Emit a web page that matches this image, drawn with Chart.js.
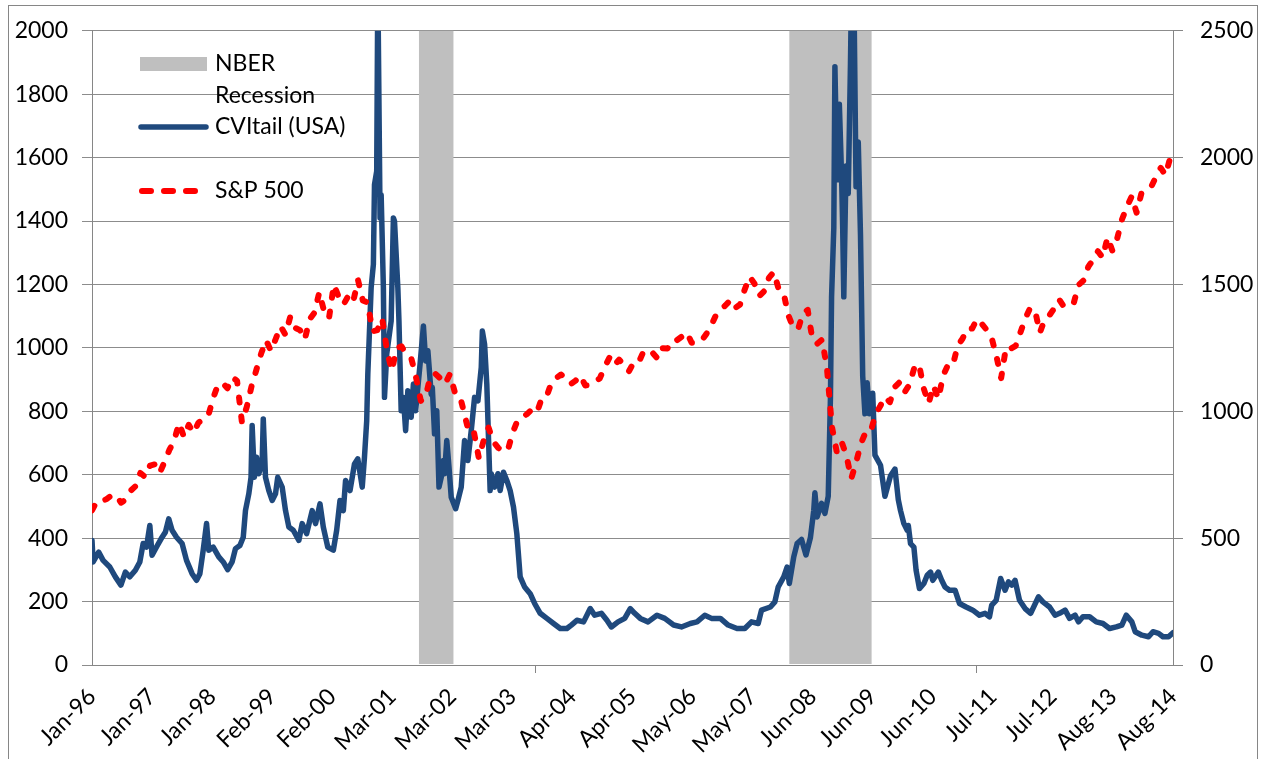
<!DOCTYPE html>
<html lang="en">
<head>
    <meta charset="UTF-8">
    <title>CVItail (USA) vs S&amp;P 500</title>
    <script src="https://cdn.jsdelivr.net/npm/chart.js"></script>
    <style>
        body {
            margin: 0;
            background: #ffffff;
        }
        #wrap {
            width: 1264px;
            height: 759px;
        }
    </style>
</head>
<body>
    <div id="wrap"><canvas id="chart" width="1264" height="759"></canvas></div>

    <script>
        // x axis: weekly observations, one label every 54 weeks
        const xLabels = ['Jan-96', 'Jan-97', 'Jan-98', 'Feb-99', 'Feb-00', 'Mar-01', 'Mar-02', 'Mar-03', 'Apr-04',
            'Apr-05', 'May-06', 'May-07', 'Jun-08', 'Jun-09', 'Jun-10', 'Jul-11', 'Jul-12', 'Aug-13', 'Aug-14'];
        const weeksPerLabel = 54;
        const weeksPerYear = 52.18;
        const xMajorTicks = [398, 795];

        // shaded NBER recession periods (week index)
        const recessionStart = [294, 627];
        const recessionEnd = [325, 701];

        // CVItail (USA), left axis (week index / value)
        const cvWeeks = [0, 1, 6, 10, 16, 21, 26, 30, 34, 39, 43, 46, 49, 52, 54, 58, 63, 66, 69, 72, 76, 81, 85, 90, 94, 97,
            100, 103, 105, 109, 114, 118, 122, 126, 129, 133, 136, 138, 141, 143, 144, 146, 148, 150, 153, 154, 156, 159,
            162, 165, 167, 171, 174, 177, 181, 186, 189, 193, 198, 201, 205, 208, 212, 217, 220, 223, 226, 228, 232, 236,
            239, 243, 245, 247, 248, 251, 253, 254, 256, 257, 259, 260, 262, 263, 265, 269, 271, 272, 275, 276, 278, 280,
            282, 284, 287, 289, 291, 295, 298, 300, 302, 305, 306, 308, 310, 312, 314, 316, 317, 319, 321, 323, 327, 329,
            332, 335, 338, 341, 344, 347, 350, 351, 353, 355, 358, 359, 362, 365, 367, 370, 373, 376, 379, 382, 385, 389,
            394, 398, 403, 409, 415, 421, 427, 431, 436, 442, 448, 452, 458, 463, 467, 473, 479, 484, 488, 493, 500, 508,
            515, 523, 530, 538, 544, 551, 557, 565, 572, 580, 587, 593, 599, 602, 610, 614, 617, 622, 625, 627, 631, 634,
            638, 642, 646, 649, 650, 652, 656, 659, 662, 664, 665, 667, 668, 670, 672, 674, 675, 676, 678, 680, 682, 683,
            685, 687, 689, 691, 693, 695, 697, 699, 702, 704, 709, 713, 718, 722, 725, 727, 730, 733, 734, 736, 739, 741,
            744, 748, 751, 754, 756, 761, 764, 767, 771, 776, 780, 786, 792, 798, 803, 807, 809, 813, 817, 821, 824, 827,
            830, 834, 839, 844, 851, 855, 861, 866, 870, 875, 879, 884, 887, 891, 897, 903, 909, 915, 921, 926, 930, 935,
            938, 944, 950, 954, 959, 963, 968, 972];
        const cvValues = [393, 325, 356, 330, 309, 278, 252, 293, 278, 299, 325, 383, 372, 440, 346, 372, 403, 419, 461, 425,
            403, 383, 330, 288, 267, 288, 362, 446, 362, 372, 341, 325, 301, 325, 367, 377, 403, 487, 540, 592, 755, 592,
            655, 603, 639, 776, 592, 550, 519, 540, 592, 561, 487, 435, 425, 393, 446, 414, 487, 446, 508, 435, 372, 362,
            425, 519, 487, 582, 550, 634, 650, 561, 655, 770, 917, 1190, 1263, 1515, 1557, 2150, 1410, 1483, 1190, 844,
            980, 1085, 1410, 1400, 1190, 1085, 802, 844, 739, 865, 781, 886, 802, 949, 1069, 959, 991, 854, 875, 729, 802,
            561, 592, 645, 603, 708, 624, 529, 493, 519, 561, 708, 645, 739, 844, 833, 938, 1053, 1012, 886, 550, 603,
            561, 603, 550, 608, 582, 550, 498, 414, 278, 246, 225, 194, 163, 147, 131, 115, 115, 126, 141, 136, 178, 157,
            163, 141, 120, 136, 147, 178, 163, 147, 136, 157, 147, 126, 120, 131, 136, 157, 147, 147, 126, 115, 115, 136,
            131, 173, 183, 199, 246, 278, 309, 257, 341, 383, 396, 347, 402, 488, 543, 467, 510, 478, 532, 846, 1161, 1378,
            1887, 1530, 1768, 1541, 1378, 1161, 1574, 1487, 1898, 2150, 2150, 1508, 1649, 1356, 911, 792, 890, 792, 857,
            662, 630, 532, 597, 618, 521, 487, 446, 425, 440, 383, 372, 299, 241, 257, 283, 293, 267, 293, 267, 246, 236,
            236, 194, 183, 173, 157, 163, 152, 189, 204, 273, 236, 262, 252, 267, 204, 178, 163, 215, 199, 183, 157, 163,
            173, 147, 157, 136, 152, 152, 136, 131, 115, 120, 126, 157, 136, 105, 94, 89, 105, 100, 89, 89, 102];

        // S&P 500, right axis, one value per month from Jan-96
        const spMonthly = [
            610, 645, 645, 654, 668, 670, 640, 652, 687, 705, 757, 741,
            786, 791, 757, 801, 848, 885, 954, 899, 947, 915, 955, 970,
            980, 1049, 1102, 1112, 1091, 1134, 1120, 957, 1017, 1099, 1164, 1229,
            1280, 1238, 1286, 1335, 1302, 1373, 1329, 1320, 1283, 1363, 1389, 1469,
            1394, 1366, 1499, 1452, 1421, 1455, 1431, 1518, 1437, 1429, 1315, 1320,
            1366, 1240, 1160, 1249, 1256, 1224, 1211, 1134, 1041, 1060, 1139, 1148,
            1130, 1107, 1147, 1077, 1067, 990, 912, 916, 815, 886, 936, 880,
            856, 841, 848, 917, 964, 975, 990, 1008, 996, 1051, 1058, 1112,
            1131, 1145, 1126, 1107, 1121, 1141, 1102, 1104, 1115, 1130, 1174, 1212,
            1181, 1204, 1181, 1157, 1192, 1191, 1234, 1220, 1229, 1207, 1249, 1248,
            1280, 1281, 1295, 1311, 1270, 1270, 1277, 1304, 1336, 1378, 1401, 1418,
            1438, 1407, 1421, 1482, 1531, 1503, 1455, 1474, 1527, 1549, 1481, 1468,
            1378, 1331, 1323, 1386, 1400, 1280, 1267, 1283, 1165, 940, 840, 880,
            826, 735, 798, 873, 919, 919, 987, 1021, 1057, 1036, 1096, 1115,
            1074, 1104, 1169, 1187, 1089, 1031, 1102, 1049, 1141, 1183, 1181, 1258,
            1286, 1327, 1326, 1364, 1345, 1321, 1292, 1219, 1131, 1253, 1247, 1258,
            1312, 1366, 1408, 1398, 1310, 1362, 1379, 1407, 1441, 1412, 1416, 1426,
            1498, 1515, 1569, 1598, 1631, 1606, 1686, 1633, 1682, 1757, 1806, 1848,
            1783, 1859, 1872, 1884, 1924, 1960, 1931, 2003
        ];

        const shadeColor = '#bfbfbf';
        const axisColor = '#868686';
        const legendDash = [9, 13];

        const cvData = cvWeeks.map((w, i) => ({ x: w, y: cvValues[i] }));
        const spData = spMonthly.map((v, i) => ({ x: i * weeksPerYear / 12, y: v }));

        // outer chart border
        const frame = {
            id: 'frame',
            beforeDraw(chart) {
                const ctx = chart.ctx;
                ctx.save();
                ctx.strokeStyle = axisColor;
                ctx.lineWidth = 1;
                ctx.strokeRect(8.5, 5.5, 1249, 800);
                ctx.restore();
            }
        };

        // recession bars, drawn over the gridlines but under the series
        const recessions = {
            id: 'recessions',
            beforeDatasetsDraw(chart) {
                const { ctx, chartArea, scales } = chart;
                ctx.save();
                ctx.fillStyle = shadeColor;
                recessionStart.forEach((s, i) => {
                    const x0 = scales.x.getPixelForValue(s);
                    const x1 = scales.x.getPixelForValue(recessionEnd[i]);
                    ctx.fillRect(x0, chartArea.top, x1 - x0, chartArea.bottom - chartArea.top - 1);
                });
                ctx.restore();
            }
        };

        // the few major tick marks under the category axis
        const xMarks = {
            id: 'xMarks',
            afterDraw(chart) {
                const { ctx, chartArea, scales } = chart;
                ctx.save();
                ctx.strokeStyle = axisColor;
                ctx.lineWidth = 1;
                xMajorTicks.forEach(t => {
                    const px = Math.round(scales.x.getPixelForValue(t)) + 0.5;
                    ctx.beginPath();
                    ctx.moveTo(px, chartArea.bottom);
                    ctx.lineTo(px, chartArea.bottom + 8);
                    ctx.stroke();
                });
                ctx.restore();
            }
        };

        // Excel-style legend inside the plot, top left
        const legendBox = {
            id: 'legendBox',
            afterDraw(chart) {
                const ctx = chart.ctx;
                const cv = chart.data.datasets[0];
                const sp = chart.data.datasets[1];
                ctx.save();
                ctx.font = '23px Lato';
                ctx.textBaseline = 'middle';

                ctx.fillStyle = shadeColor;
                ctx.fillRect(140, 57, 67, 14);
                ctx.fillStyle = '#000';
                ctx.fillText('NBER', 215, 64);
                ctx.fillText('Recession', 215, 96);

                ctx.strokeStyle = cv.borderColor;
                ctx.lineWidth = cv.borderWidth;
                ctx.lineCap = 'round';
                ctx.beginPath();
                ctx.moveTo(141, 127);
                ctx.lineTo(206, 127);
                ctx.stroke();
                ctx.fillText(cv.label, 215, 127);

                ctx.strokeStyle = sp.borderColor;
                ctx.lineWidth = sp.borderWidth;
                ctx.setLineDash(legendDash);
                ctx.beginPath();
                ctx.moveTo(142, 191);
                ctx.lineTo(200, 191);
                ctx.stroke();
                ctx.setLineDash([]);
                ctx.fillText(sp.label, 215, 191);
                ctx.restore();
            }
        };

        Chart.defaults.font.family = 'Lato';
        Chart.defaults.font.size = 23;
        Chart.defaults.color = '#000';

        new Chart(document.getElementById('chart'), {
            type: 'line',
            data: {
                datasets: [
                    {
                        label: 'CVItail (USA)',
                        data: cvData,
                        yAxisID: 'y',
                        borderColor: '#1f497d',
                        borderWidth: 5.5,
                        borderJoinStyle: 'round',
                        borderCapStyle: 'round',
                        pointRadius: 0,
                        tension: 0,
                        clip: 0,
                        order: 2
                    },
                    {
                        label: 'S&P 500',
                        data: spData,
                        yAxisID: 'y2',
                        borderColor: '#ff0000',
                        borderWidth: 6,
                        borderDash: [5, 14],
                        borderCapStyle: 'round',
                        borderJoinStyle: 'round',
                        pointRadius: 0,
                        tension: 0,
                        clip: 0,
                        order: 1
                    }
                ]
            },
            options: {
                responsive: false,
                animation: false,
                layout: { padding: { top: 29, left: 0, right: 0, bottom: 0 } },
                plugins: {
                    legend: { display: false },
                    tooltip: { enabled: false }
                },
                scales: {
                    x: {
                        type: 'linear',
                        min: 0,
                        max: (xLabels.length - 1) * weeksPerLabel,
                        afterBuildTicks: s => {
                            s.ticks = xLabels.map((_, i) => ({ value: i * weeksPerLabel }));
                        },
                        ticks: {
                            autoSkip: false,
                            minRotation: 45,
                            maxRotation: 45,
                            padding: 10,
                            callback: (v, i) => xLabels[i]
                        },
                        grid: { display: false },
                        border: { display: true, color: axisColor, width: 1 },
                        afterFit: s => { s.height = 94; }
                    },
                    y: {
                        position: 'left',
                        min: 0,
                        max: 2000,
                        ticks: { stepSize: 200, padding: 14, callback: v => String(v) },
                        grid: { color: '#8c8c8c', tickLength: 10 },
                        border: { color: axisColor },
                        afterFit: s => { s.width = 92; }
                    },
                    y2: {
                        position: 'right',
                        min: 0,
                        max: 2500,
                        ticks: { stepSize: 500, padding: 17, callback: v => String(v) },
                        grid: { drawOnChartArea: false, color: axisColor, tickLength: 10 },
                        border: { color: axisColor },
                        afterFit: s => { s.width = 91; }
                    }
                }
            },
            plugins: [frame, recessions, xMarks, legendBox]
        });
    </script>
</body>
</html>
